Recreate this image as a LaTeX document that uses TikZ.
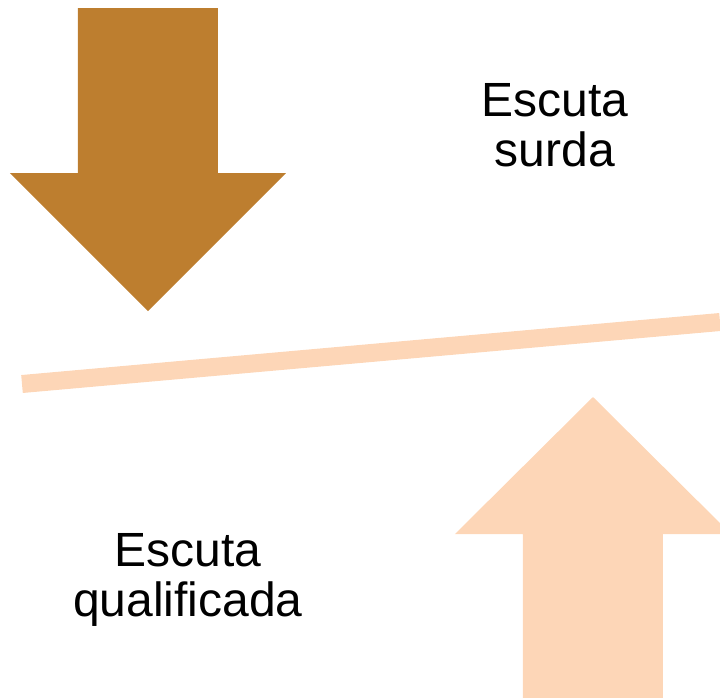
\documentclass[tikz,border=0pt]{standalone}
\usepackage{fontspec}
\setmainfont{Liberation Sans}
\definecolor{arrowBrown}{HTML}{BD7E2F}
\definecolor{arrowPeach}{HTML}{FDD6B7}

\begin{document}
\begin{tikzpicture}
[x=0.5pt,y=-0.5pt,
  arrowDecorate/.style={fill=#1,draw=none},%
  barDecorate/.style={draw=arrowPeach,line width=9pt},%
  labelDecorate/.style={align=center,font=\fontsize{24}{25}\selectfont,inner sep=0pt}]
\useasboundingbox (0,0) rectangle (720,698);
\clip (0,0) rectangle (720,698);
%% arrows
\fill[arrowDecorate=arrowBrown] (78,8) -- (218,8) -- (218,173) -- (286,173)
  -- (148,311) -- (10,173) -- (78,173) -- cycle;
\fill[arrowDecorate=arrowPeach] (523,698) -- (663,698) -- (663,534) -- (731,534)
  -- (593,397) -- (455,534) -- (523,534) -- cycle;
%% balance bar
\coordinate (barleft) at (22,384);
\coordinate (barright) at (720,322);
\draw[barDecorate] (barleft) -- (barright);
%% labels
\foreach \labelname/\x/\y/\txt in {surda/555/125/{Escuta\\surda}, qualificada/188/580/{Escuta\\qualificada}}
{
  \node (\labelname) at (\x,\y) [labelDecorate] {\txt};
}
\end{tikzpicture}
\end{document}
